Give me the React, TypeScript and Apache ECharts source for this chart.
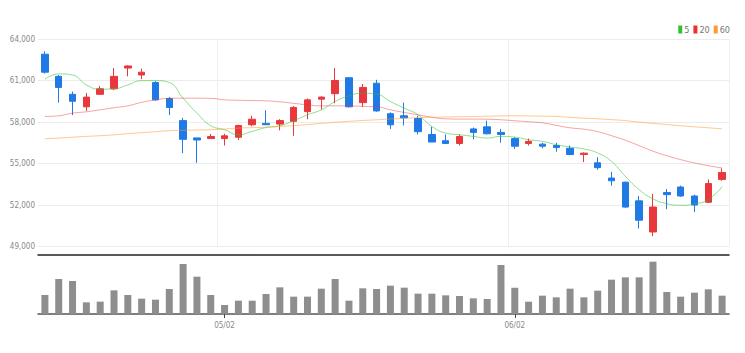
import React, { useEffect, useRef } from "react";
import * as echarts from "echarts";

const dates = [
  "04/13","04/14","04/15","04/18","04/19","04/20","04/21","04/22","04/25","04/26",
  "04/27","04/28","04/29","05/02","05/03","05/04","05/06","05/09","05/10","05/11",
  "05/12","05/13","05/16","05/17","05/18","05/19","05/20","05/23","05/24","05/25",
  "05/26","05/27","05/30","05/31","06/02","06/03","06/07","06/08","06/09","06/10",
  "06/13","06/14","06/15","06/16","06/17","06/20","06/21","06/22","06/23","06/24",
];

const opens = [62900,61300,60000,59100,60000,60400,61900,61400,60850,59700,58100,56850,56800,56800,56900,57800,57900,57850,58050,58750,59650,60050,61200,59400,60800,58600,58450,58250,57100,56650,56450,57500,57650,57250,56800,56450,56400,56300,56100,55650,55050,53950,53650,52300,50050,52900,53300,52650,52200,53850];
const closes = [61600,60500,59500,59800,60400,61300,62050,61600,59600,59050,56750,56700,56950,57000,57750,58200,57800,58100,59050,59600,59800,61000,59100,60500,58800,57800,58300,57300,56550,56450,56950,57250,57150,57100,56250,56600,56250,56150,55650,55750,54700,53750,51850,50900,51850,52750,52650,52000,53550,54350];
const highs = [63100,61400,60200,60100,60600,61900,62100,61850,60950,59800,58300,56850,57130,57150,57800,58450,58850,58200,59150,59700,59850,61900,61250,60750,61050,58700,59400,58450,57650,57100,57100,57600,58100,57500,56900,56800,56500,56500,56300,55800,55450,54400,53700,52650,52800,53150,53400,52750,53850,54650];
const lows = [61500,59400,58500,58800,60000,60300,61300,61100,59550,58500,55750,55050,56800,56300,56700,57700,57800,57400,57000,58200,58900,59350,59050,59100,58750,57500,57750,57100,56550,56400,56300,56750,57100,56500,56050,56300,56100,55850,55600,55100,54550,53400,51800,50300,49750,51700,52600,51500,52150,53750];

const ma5 = [61080,61480,61400,60680,60370,60400,60680,60990,60990,60850,59720,58640,57730,57440,57080,57320,57600,57730,58090,58520,58880,59480,59890,60080,60010,59480,59000,58520,57680,57200,57080,56960,56840,56960,56910,56720,56600,56360,56190,56050,55760,55150,54070,53110,52440,52100,51980,52080,52390,53330];
const ma20 = [58400,58450,58640,58740,58880,59030,59170,59420,59600,59710,59720,59720,59710,59600,59570,59550,59530,59460,59350,59240,59170,59170,59170,59130,59100,58880,58690,58520,58340,58230,58210,58210,58200,58160,58090,58020,57940,57760,57580,57480,57300,57010,56680,56290,55890,55560,55280,55040,54840,54680];
const ma60 = [56790,56840,56900,56960,57010,57070,57160,57230,57300,57370,57400,57420,57440,57490,57560,57590,57620,57680,57740,57810,57900,57980,58050,58110,58160,58220,58270,58310,58340,58360,58380,58395,58420,58440,58450,58440,58420,58400,58340,58280,58230,58170,58100,57990,57900,57820,57730,57650,57580,57510];

const volumes = [5700,10500,9900,3500,3700,7100,5700,4600,4300,7500,15000,11200,5700,2700,4000,4000,6000,8000,5200,5200,7600,10500,4000,7700,7500,8500,7900,6100,6100,5600,5400,4700,4500,14700,7900,3700,5500,5000,7600,5000,7000,10300,11000,11000,15700,6600,5200,6400,7400,5500];

const yTicks = { min: 49000, max: 64000, interval: 3000 };

const FONT = "'Liberation Sans Narrow', 'DejaVu Sans Condensed', sans-serif";
const UP = "#e8383d";
const DOWN = "#1f7ae6";

const isMonthStart = (idx: number) =>
  idx > 0 && dates[idx].slice(0, 2) !== dates[idx - 1].slice(0, 2);

export default function App() {
  const ref = useRef<HTMLDivElement>(null);
  useEffect(() => {
    if (!ref.current) return;
    const chart = echarts.init(ref.current, undefined, { renderer: "svg" });
    const candleData = opens.map((o, i) => [o, closes[i], lows[i], highs[i]]);
    chart.setOption({
      animation: false,
      backgroundColor: "#ffffff",
      textStyle: { fontFamily: FONT },
      legend: {
        data: ["5", "20", "60"],
        right: 10,
        top: 20,
        icon: "rect",
        itemWidth: 4,
        itemHeight: 8,
        itemGap: 4,
        textStyle: { fontSize: 9, color: "#777", fontFamily: FONT, padding: [0, 0, 0, -3] },
      },
      grid: [
        { left: 38, right: 16, top: 39, height: 207.5 },
        { left: 38, right: 16, top: 255, height: 59 },
      ],
      xAxis: [
        {
          type: "category",
          gridIndex: 0,
          data: dates,
          boundaryGap: true,
          offset: 8,
          axisLine: { show: true, lineStyle: { color: "#222", width: 1.5 } },
          axisTick: { show: false },
          axisLabel: { show: false },
          splitLine: {
            show: true,
            interval: (idx: number) => isMonthStart(idx),
            lineStyle: { color: "#eeeeee", width: 1 },
          },
        },
        {
          type: "category",
          gridIndex: 1,
          data: dates,
          boundaryGap: true,
          axisLine: { show: true, lineStyle: { color: "#555", width: 1.5 } },
          axisTick: {
            show: true,
            alignWithLabel: true,
            interval: (idx: number) => isMonthStart(idx),
            length: 4,
            lineStyle: { color: "#444" },
          },
          axisLabel: {
            show: true,
            interval: (idx: number) => isMonthStart(idx),
            fontSize: 8,
            color: "#888",
            margin: 7,
            fontFamily: FONT,
          },
          splitLine: { show: false },
        },
      ],
      yAxis: [
        {
          type: "value",
          gridIndex: 0,
          min: yTicks.min,
          max: yTicks.max,
          interval: yTicks.interval,
          axisLine: { show: false },
          axisTick: { show: false },
          axisLabel: {
            fontSize: 8,
            color: "#888",
            margin: 3,
            fontFamily: FONT,
            formatter: (v: number) => v.toLocaleString("en-US"),
          },
          splitLine: { lineStyle: { color: "#ececec", width: 1 } },
        },
        {
          type: "value",
          gridIndex: 1,
          min: 0,
          max: 17700,
          axisLine: { show: false },
          axisTick: { show: false },
          axisLabel: { show: false },
          splitLine: { show: false },
        },
      ],
      series: [
        {
          name: "candle",
          type: "candlestick",
          xAxisIndex: 0,
          yAxisIndex: 0,
          data: candleData,
          barWidth: 7,
          itemStyle: {
            color: UP,
            color0: DOWN,
            borderColor: UP,
            borderColor0: DOWN,
            borderWidth: 1,
          },
        },
        {
          name: "5",
          type: "line",
          xAxisIndex: 0,
          yAxisIndex: 0,
          data: ma5,
          smooth: true,
          symbol: "none",
          color: "#2fc22f",
          lineStyle: { width: 1, color: "#2fc22f", opacity: 0.55 },
        },
        {
          name: "20",
          type: "line",
          xAxisIndex: 0,
          yAxisIndex: 0,
          data: ma20,
          smooth: true,
          symbol: "none",
          color: "#ee3030",
          lineStyle: { width: 1, color: "#ee3030", opacity: 0.45 },
        },
        {
          name: "60",
          type: "line",
          xAxisIndex: 0,
          yAxisIndex: 0,
          data: ma60,
          smooth: true,
          symbol: "none",
          color: "#ff9a2e",
          lineStyle: { width: 1, color: "#ff9a2e", opacity: 0.55 },
        },
        {
          name: "volume",
          type: "bar",
          xAxisIndex: 1,
          yAxisIndex: 1,
          data: volumes,
          barWidth: 7,
          itemStyle: { color: "#8e8e8e" },
        },
      ],
    });
    return () => chart.dispose();
  }, []);
  return (
    <div
      ref={ref}
      style={{ position: "fixed", left: 0, top: 0, width: 745, height: 353 }}
    />
  );
}
